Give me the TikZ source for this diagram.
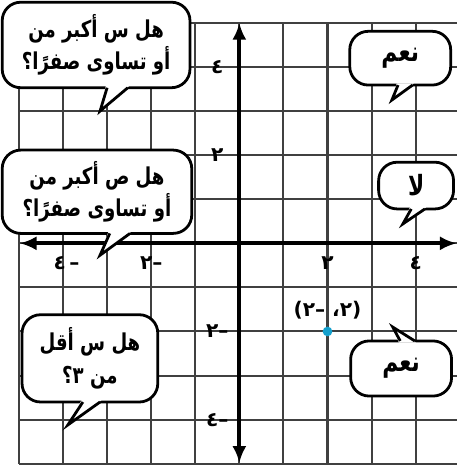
\documentclass[tikz,border=0pt]{standalone}
\usepackage{fontspec}
\usetikzlibrary{arrows.meta,positioning,calc}
\TeXXeTstate=1
\newfontfamily\arabicfont[Script=Arabic]{DejaVu Sans}
\newfontfamily\arabicnarrow[Script=Arabic, FakeStretch=0.78]{DejaVu Sans}
\definecolor{gridgray}{RGB}{64,64,64}
\definecolor{pointcyan}{RGB}{20,160,205}

\begin{document}
\begin{tikzpicture}[
    gridline/.style={draw=gridgray, line width=1.3pt},
    axisline/.style={draw=black, line width=2.4pt, {Latex[length=3.8mm,width=3.2mm]}-{Latex[length=3.8mm,width=3.2mm]}},
    numlabel/.style={font=\arabicfont\bfseries\fontsize{13}{15}\selectfont, inner sep=1pt},
    bubble/.style={draw=black, fill=white, line width=1.8pt, outer sep=0pt, rounded corners=0.42cm,
        align=center, inner sep=2pt, font=\arabicnarrow\bfseries\fontsize{15}{21}\selectfont},
    answer/.style={bubble, font=\arabicnarrow\bfseries\fontsize{18}{21}\selectfont},
    tail/.style={draw=black, line width=1.8pt, line join=miter},
    dot/.style={circle, fill=pointcyan, inner sep=0pt, minimum size=0.22cm}
]
\useasboundingbox (-5.43,-5.12) rectangle (4.93,5.52);

% grid and axes
\draw[gridline] (-5,-5) grid (4.93,5);
\coordinate (xmin) at (-4.98,0);
\coordinate (xmax) at (4.93,0);
\coordinate (ymin) at (0,-4.98);
\coordinate (ymax) at (0,5);
\draw[axisline] (xmin) -- (xmax);
\draw[axisline] (ymin) -- (ymax);

% axis numbers
\node[numlabel] (x2) at (2,-0.44) {٢};
\node[numlabel] (x4) at (4,-0.44) {٤};
\node[numlabel] (xm2) at (-2,-0.44) {\beginR –٢\endR};
\node[numlabel] (xm4) at (-3.92,-0.44) {\beginR –\,٤\endR};
\node[numlabel] (y4) at (-0.5,4) {٤};
\node[numlabel] (y2) at (-0.5,2) {٢};
\node[numlabel] (ym2) at (-0.5,-2) {\beginR –٢\endR};
\node[numlabel] (ym4) at (-0.5,-4) {\beginR –٤\endR};

% the point
\node[dot] (pt) at (2,-2) {};
\node[numlabel, above=0.13cm of pt] (ptlabel) {\beginR (٢، –٢)\endR};

% is x >= 0 ?
\node[bubble, minimum width=4.26cm, minimum height=1.94cm] (qx) at (-3.25,4.50)
    {\beginR هل س أكبر من\endR\\\beginR أو تساوى صفرًا؟\endR};
\coordinate (qxtip) at (-3.16,3.0);
\fill[white] ($(qx.south)+(0.22,0.04)$) -- (qxtip) -- ($(qx.south)+(0.75,0.04)$) -- cycle;
\draw[tail] ($(qx.south)+(0.25,0)$) -- (qxtip) -- ($(qx.south)+(0.72,0)$);

% is y >= 0 ?
\node[bubble, minimum width=4.3cm, minimum height=1.89cm] (qy) at (-3.23,1.17)
    {\beginR هل ص أكبر من\endR\\\beginR أو تساوى صفرًا؟\endR};
\coordinate (qytip) at (-3.16,-0.27);
\fill[white] ($(qy.south)+(0.26,0.04)$) -- (qytip) -- ($(qy.south)+(0.78,0.04)$) -- cycle;
\draw[tail] ($(qy.south)+(0.29,0)$) -- (qytip) -- ($(qy.south)+(0.75,0)$);

% is x < 3 ?
\node[bubble, minimum width=3.08cm, minimum height=1.98cm] (qt) at (-3.39,-2.61)
    {\beginR هل س أقل\endR\\\beginR من ٣؟\endR};
\coordinate (qttip) at (-3.89,-4.12);
\fill[white] ($(qt.south)+(-0.19,0.04)$) -- (qttip) -- ($(qt.south)+(0.26,0.04)$) -- cycle;
\draw[tail] ($(qt.south)+(-0.16,0)$) -- (qttip) -- ($(qt.south)+(0.23,0)$);

% answers
\node[answer, minimum width=2.29cm, minimum height=1.22cm] (ax) at (3.65,4.2) {\beginR نعم\endR};
\coordinate (axtip) at (3.46,3.25);
\fill[white] ($(ax.south)+(-0.08,0.04)$) -- (axtip) -- ($(ax.south)+(0.31,0.04)$) -- cycle;
\draw[tail] ($(ax.south)+(-0.05,0)$) -- (axtip) -- ($(ax.south)+(0.28,0)$);

\node[answer, minimum width=1.7cm, minimum height=1.06cm] (ay) at (4.01,1.31) {\beginR لا\endR};
\coordinate (aytip) at (3.71,0.44);
\fill[white] ($(ay.south)+(-0.14,0.04)$) -- (aytip) -- ($(ay.south)+(0.23,0.04)$) -- cycle;
\draw[tail] ($(ay.south)+(-0.11,0)$) -- (aytip) -- ($(ay.south)+(0.2,0)$);

\node[answer, minimum width=2.29cm, minimum height=1.25cm] (at) at (3.67,-2.84) {\beginR نعم\endR};
\coordinate (attip) at (3.48,-1.9);
\fill[white] ($(at.north)+(-0.05,-0.04)$) -- (attip) -- ($(at.north)+(0.34,-0.04)$) -- cycle;
\draw[tail] ($(at.north)+(-0.02,0)$) -- (attip) -- ($(at.north)+(0.31,0)$);
\end{tikzpicture}
\end{document}
